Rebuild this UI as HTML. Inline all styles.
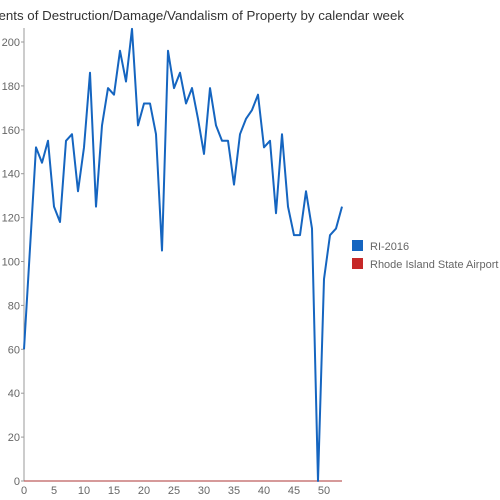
<!DOCTYPE html>
<html><head><meta charset="utf-8"><style>
body{margin:0;background:#fff}
svg{display:block;font-family:"Liberation Sans",Arial,sans-serif}
</style></head><body>
<svg id="chart" width="500" height="500">
<text x="404" y="20" text-anchor="end" font-size="13.3" fill="#333">Incidents of Destruction/Damage/Vandalism of Property by calendar week</text>
<g id="axes"></g>
<g id="series"></g>
<g>
<rect x="352" y="240" width="11" height="11" fill="#1565c0"/>
<text x="370" y="250" font-size="11" fill="#666">RI-2016</text>
<rect x="352" y="258" width="11" height="11" fill="#c62828"/>
<text x="370" y="268" font-size="11" fill="#666">Rhode Island State Airport</text>
</g>
</svg>
<script>
const weeks = [];
for (let i = 0; i <= 53; i++) weeks.push(i);
const ri2016 = [60,106,152,145,155,125,118,155,158,132,152,186,125,162,179,176,196,182,206,162,172,172,158,105,196,179,186,172,179,165,149,179,162,155,155,135,158,165,169,176,152,155,122,158,125,112,112,132,115,0,92,112,115,125];
const airport = [0,0,0,0,0,0,0,0,0,0,0,0,0,0,0,0,0,0,0,0,0,0,0,0,0,0,0,0,0,0,0,0,0,0,0,0,0,0,0,0,0,0,0,0,0,0,0,0,0,0,0,0,0,0];
const yTicks = [0,20,40,60,80,100,120,140,160,180,200];
const xTicks = [0,5,10,15,20,25,30,35,40,45,50];
const NS = "http://www.w3.org/2000/svg";
const X0 = 24, XS = 6, Y0 = 481, YS = 2.195;
const xs = v => X0 + v * XS;
const ys = v => Y0 - v * YS;
const axes = document.getElementById('axes');
const series = document.getElementById('series');
function mk(tag, attrs, parent){const e=document.createElementNS(NS,tag);for(const k in attrs)e.setAttribute(k,attrs[k]);parent.appendChild(e);return e;}
const yAxis = mk('line',{x1:X0,y1:28,x2:X0,y2:Y0,stroke:'#999','stroke-width':1},axes);


const xAxis = mk('line',{x1:X0,y1:Y0,x2:342,y2:Y0,stroke:'#999','stroke-width':1},axes);


yTicks.forEach(t=>{
  const tk = mk('line',{x1:X0-3,y1:ys(t),x2:X0,y2:ys(t),stroke:'#999'},axes);
  
  
  const lb = mk('text',{x:X0-4,y:ys(t)+4,'text-anchor':'end','font-size':11,fill:'#666'},axes);
  lb.textContent = t;
  
  
});
xTicks.forEach(t=>{
  const lb = mk('text',{x:xs(t),y:Y0+13,'text-anchor':'middle','font-size':11,fill:'#666'},axes);
  lb.textContent = t;
  
  
});
const pA = mk('polyline',{points:weeks.map((w,i)=>xs(w)+','+ys(airport[i])).join(' '),fill:'none',stroke:'#c62828','stroke-width':1.2,opacity:0.6},series);


const pR = mk('polyline',{points:weeks.map((w,i)=>xs(w)+','+ys(ri2016[i])).join(' '),fill:'none',stroke:'#1565c0','stroke-width':2,'stroke-linejoin':'round'},series);


</script>
</body></html>
